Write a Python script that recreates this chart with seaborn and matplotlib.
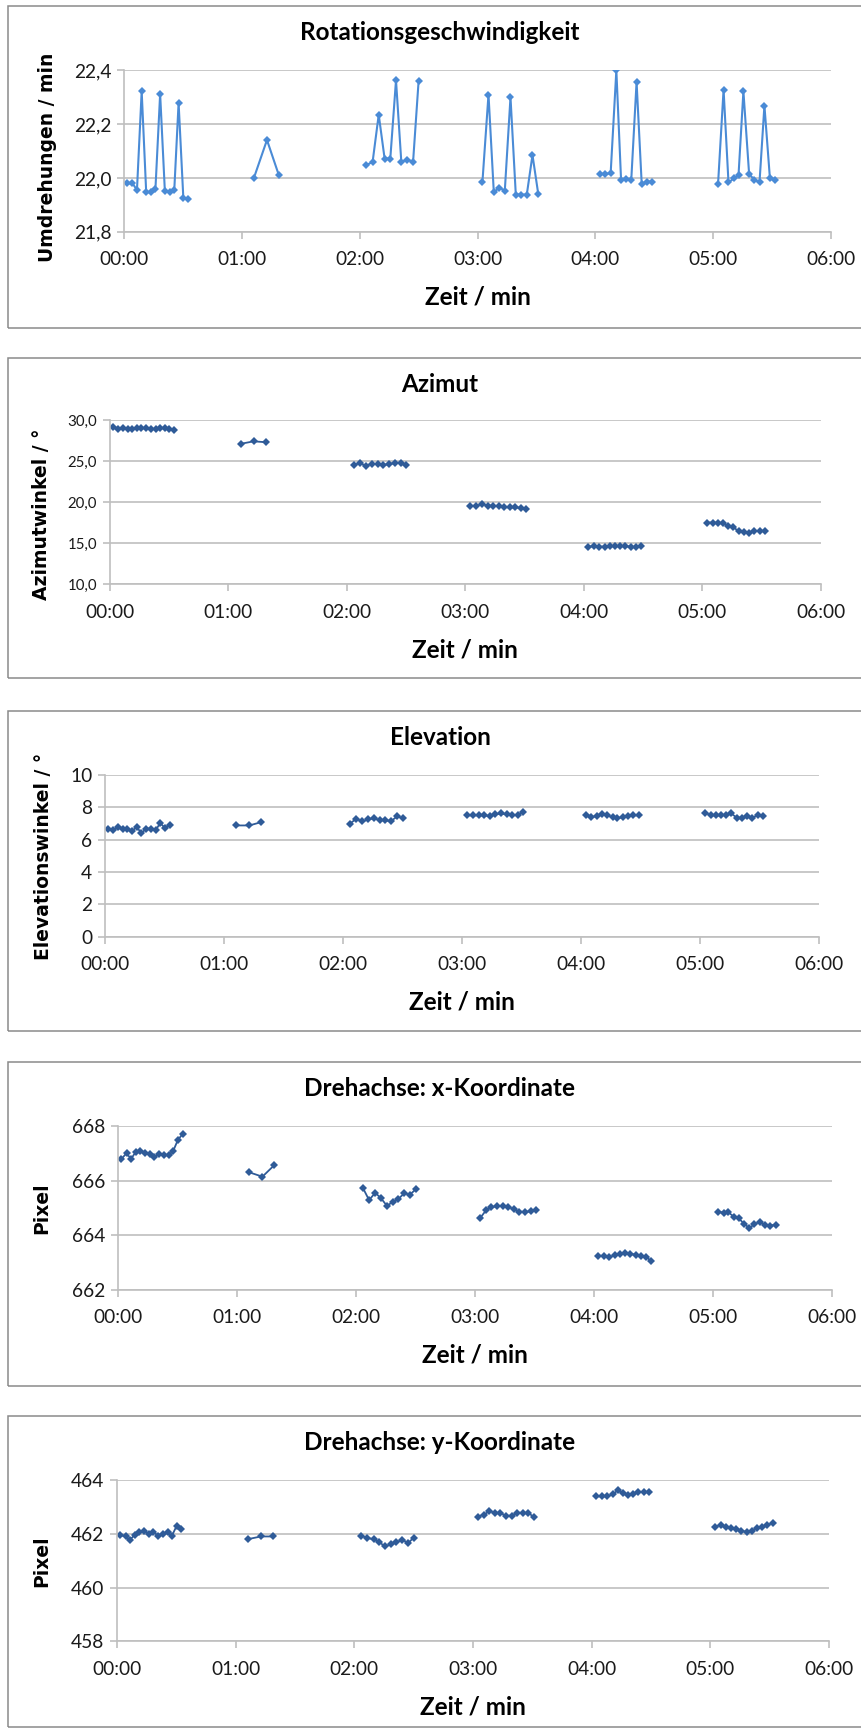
import matplotlib
matplotlib.use("Agg")
import matplotlib.pyplot as plt
import pandas as pd
import seaborn as sns
from matplotlib.patches import Rectangle

# Sample times (seconds) of the six measurement runs
t_runs = [
    [1.7, 4.3, 6.6, 9.0, 11.3, 13.6, 16.0, 18.4, 20.8, 23.2, 25.6, 27.8, 30.2, 32.6],
    [66.2, 72.8, 78.9],
    [123.4, 126.6, 129.7, 132.7, 135.6, 138.5, 141.2, 144.3, 147.2, 150.0],
    [182.5, 185.6, 188.3, 191.2, 193.9, 196.8, 199.5, 202.4, 205.1, 208.0, 210.9],
    [242.2, 245.1, 247.8, 250.7, 253.1, 255.8, 258.3, 261.0, 263.6, 266.3, 268.9],
    [302.5, 305.3, 307.8, 310.5, 312.9, 315.4, 318.3, 320.9, 323.6, 326.1, 328.9, 331.6],
]

# Rotationsgeschwindigkeit (U/min)
rpm = [
    [21.980, 21.980, 21.955, 22.322, 21.947, 21.947, 21.958, 22.312, 21.952, 21.947, 21.955, 22.279, 21.927, 21.922],
    [22.001, 22.141, 22.009],
    [22.047, 22.060, 22.235, 22.072, 22.072, 22.363, 22.060, 22.067, 22.060, 22.359],
    [21.984, 22.310, 21.947, 21.964, 21.952, 22.300, 21.938, 21.938, 21.938, 22.085, 21.942],
    [22.015, 22.015, 22.017, 22.400, 21.993, 21.995, 21.993, 22.357, 21.979, 21.986, 21.986],
    [21.979, 22.328, 21.983, 21.998, 22.009, 22.322, 22.015, 21.993, 21.984, 22.269, 21.998, 21.991],
]

# Azimutwinkel (Grad)
azimut = [
    [29.1, 28.9, 29.0, 28.9, 28.9, 29.0, 29.0, 29.0, 28.9, 28.9, 29.0, 29.0, 28.9, 28.8],
    [27.1, 27.4, 27.3],
    [24.55, 24.72, 24.43, 24.67, 24.63, 24.51, 24.63, 24.76, 24.80, 24.55],
    [19.55, 19.55, 19.76, 19.59, 19.55, 19.51, 19.39, 19.35, 19.35, 19.31, 19.19],
    [14.59, 14.63, 14.59, 14.59, 14.63, 14.63, 14.63, 14.63, 14.59, 14.51, 14.63],
    [17.52, 17.52, 17.48, 17.44, 17.11, 16.95, 16.50, 16.42, 16.30, 16.46, 16.50, 16.46],
]

# Elevationswinkel (Grad)
elevation = [
    [6.68, 6.57, 6.78, 6.68, 6.68, 6.53, 6.78, 6.41, 6.68, 6.68, 6.57, 7.03, 6.74, 6.92],
    [6.88, 6.88, 7.09],
    [6.98, 7.29, 7.13, 7.25, 7.33, 7.21, 7.19, 7.15, 7.44, 7.35],
    [7.50, 7.50, 7.50, 7.50, 7.46, 7.56, 7.62, 7.56, 7.50, 7.52, 7.74],
    [7.52, 7.39, 7.46, 7.60, 7.52, 7.39, 7.33, 7.39, 7.48, 7.50, 7.50],
    [7.68, 7.50, 7.50, 7.50, 7.54, 7.64, 7.37, 7.35, 7.44, 7.35, 7.50, 7.44],
]

# Drehachse x-Koordinate (Pixel)
axis_x = [
    [666.80, 667.01, 666.80, 667.07, 667.09, 667.03, 666.97, 666.88, 666.97, 666.93, 666.95, 667.09, 667.50, 667.72],
    [666.31, 666.15, 666.58],
    [665.75, 665.29, 665.56, 665.35, 665.08, 665.22, 665.32, 665.54, 665.49, 665.68],
    [664.62, 664.92, 665.03, 665.07, 665.08, 665.05, 664.95, 664.87, 664.85, 664.88, 664.92],
    [663.25, 663.24, 663.20, 663.27, 663.31, 663.33, 663.32, 663.28, 663.25, 663.20, 663.05],
    [664.86, 664.83, 664.84, 664.68, 664.64, 664.43, 664.27, 664.40, 664.50, 664.37, 664.35, 664.39],
]

# Drehachse y-Koordinate (Pixel)
axis_y = [
    [461.96, 461.90, 461.78, 461.96, 462.06, 462.12, 462.00, 462.06, 461.93, 461.99, 462.05, 461.93, 462.30, 462.17],
    [461.80, 461.90, 461.90],
    [461.93, 461.84, 461.80, 461.68, 461.53, 461.61, 461.68, 461.78, 461.65, 461.86],
    [462.64, 462.71, 462.85, 462.77, 462.77, 462.67, 462.67, 462.79, 462.77, 462.77, 462.62],
    [463.39, 463.39, 463.39, 463.47, 463.61, 463.51, 463.44, 463.47, 463.57, 463.54, 463.56],
    [462.27, 462.32, 462.27, 462.21, 462.17, 462.12, 462.06, 462.12, 462.21, 462.25, 462.33, 462.40],
]

x_ticks = [0, 60, 120, 180, 240, 300, 360]
x_ticklabels = ["00:00", "01:00", "02:00", "03:00", "04:00", "05:00", "06:00"]

titles = ["Rotationsgeschwindigkeit", "Azimut", "Elevation",
          "Drehachse: x-Koordinate", "Drehachse: y-Koordinate"]
ylabels = ["Umdrehungen / min", "Azimutwinkel / °", "Elevationswinkel / °", "Pixel", "Pixel"]
xlabel = "Zeit / min"

yticks = [
    [21.8, 22.0, 22.2, 22.4],
    [10, 15, 20, 25, 30],
    [0, 2, 4, 6, 8, 10],
    [662, 664, 666, 668],
    [458, 460, 462, 464],
]
yticklabels = [
    ["21,8", "22,0", "22,2", "22,4"],
    ["10,0", "15,0", "20,0", "25,0", "30,0"],
    ["0", "2", "4", "6", "8", "10"],
    ["662", "664", "666", "668"],
    ["458", "460", "462", "464"],
]
series = [rpm, azimut, elevation, axis_x, axis_y]

W, H = 861, 1728
sns.set_theme(style="white")
plt.rcParams["font.family"] = ["Lato", "DejaVu Sans"]

fig = plt.figure(figsize=(W / 100, H / 100), dpi=100)

# layout in pixels: plot area (left, right, top, bottom), chart box (top, bottom),
# title y, xlabel y, ylabel x, ylabel y, y tick font size
layout = [
    dict(plot=(124, 831, 70.3, 231.7), box=(5.7, 327.7), ty=33, xy=297, lx=48, ly=157, yfs=13.8),
    dict(plot=(109.8, 821, 420, 584.3), box=(358.3, 678.3), ty=385, xy=650, lx=42, ly=514, yfs=10.8),
    dict(plot=(104.9, 819.3, 775, 936.7), box=(710.7, 1031), ty=737.7, xy=1001.7, lx=43.5, ly=856, yfs=13.8),
    dict(plot=(118, 832, 1126.3, 1289.7), box=(1061.7, 1385.7), ty=1089, xy=1355, lx=42, ly=1208, yfs=13.8),
    dict(plot=(117, 829, 1480, 1641.3), box=(1415.7, 1726.5), ty=1442.7, xy=1706.7, lx=42, ly=1561, yfs=13.8),
]

line_colors = ["#4a8bd6", "#2f5b98", "#2f5b98", "#2f5b98", "#2f5b98"]
grid_color = "#bfbfbf"
text_color = "#1a1a1a"

for i, spec in enumerate(layout):
    l, r, t, b = spec["plot"]
    bt, bb = spec["box"]
    # chart frame
    fig.patches.append(Rectangle((8 / W, 1 - bb / H), (872 - 8) / W, (bb - bt) / H,
                                 transform=fig.transFigure, fill=False,
                                 edgecolor="#8a8a8a", linewidth=1.1, zorder=0))
    ax = fig.add_axes([l / W, 1 - b / H, (r - l) / W, (b - t) / H])

    rows = []
    for k, (ts, vs) in enumerate(zip(t_runs, series[i])):
        for tt, vv in zip(ts, vs):
            rows.append({"t": tt, "v": vv, "run": k})
    df = pd.DataFrame(rows)
    sns.lineplot(data=df, x="t", y="v", units="run", estimator=None, sort=False,
                 color=line_colors[i], linewidth=1.5 if i == 0 else 1.3,
                 marker="D", markersize=4.2, markeredgewidth=0,
                 legend=False, ax=ax)

    ax.set_xlim(0, 360)
    ax.set_ylim(yticks[i][0], yticks[i][-1])
    ax.set_xticks(x_ticks)
    ax.set_xticklabels(x_ticklabels)
    ax.set_yticks(yticks[i])
    ax.set_yticklabels(yticklabels[i])
    ax.set_xlabel("")
    ax.set_ylabel("")
    ax.grid(axis="y", color=grid_color, linewidth=1.2)
    ax.grid(axis="x", visible=False)
    ax.set_axisbelow(True)
    for s in ["top", "right"]:
        ax.spines[s].set_visible(False)
    for s in ["left", "bottom"]:
        ax.spines[s].set_color(grid_color)
        ax.spines[s].set_linewidth(1.2)
    ax.tick_params(axis="x", which="major", direction="out", length=5, width=1.2,
                   color=grid_color, labelsize=13.8, labelcolor=text_color, pad=9, bottom=True)
    ax.tick_params(axis="y", which="major", direction="out", length=5, width=1.2,
                   color=grid_color, labelsize=spec["yfs"], labelcolor=text_color, pad=4, left=True)
    ax.patch.set_alpha(0)

    fig.text(440 / W, 1 - spec["ty"] / H, titles[i], ha="center", va="center",
             fontsize=17.5, fontweight="bold", color="black")
    fig.text(((l + r) / 2) / W, 1 - spec["xy"] / H, xlabel, ha="center", va="center",
             fontsize=17.5, fontweight="bold", color="black")
    fig.text(spec["lx"] / W, 1 - spec["ly"] / H, ylabels[i], ha="center", va="center",
             rotation=90, fontsize=13.5, fontweight="bold", color="black",
             family=["DejaVu Sans"])

fig.savefig("out.png", dpi=100, facecolor="white")
